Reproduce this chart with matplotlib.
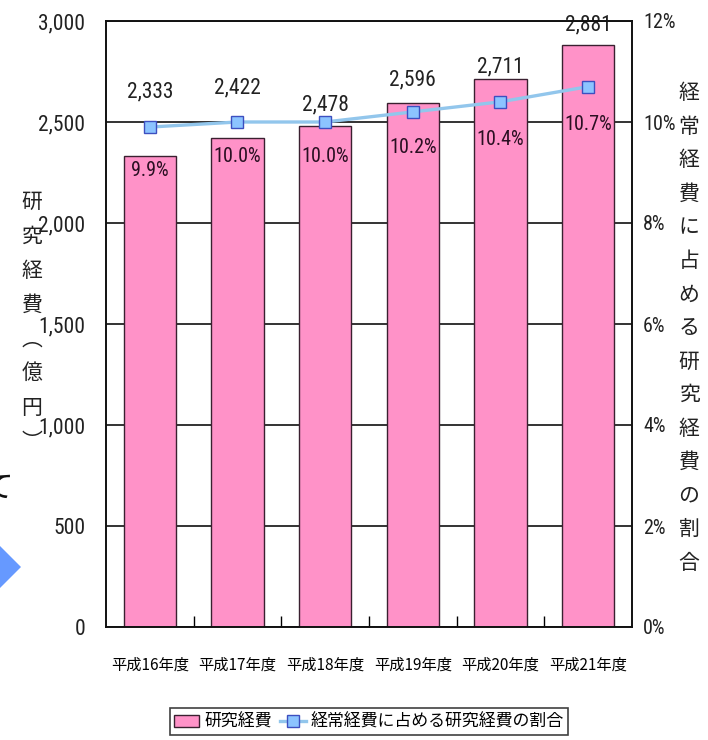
import matplotlib
matplotlib.use("Agg")
import matplotlib.pyplot as plt
from matplotlib import font_manager
from matplotlib.patches import Polygon
from matplotlib.ticker import FixedLocator, FuncFormatter

# pick a narrow face for the numbers if one is installed
fonts = font_manager.fontManager.ttflist
names = {f.name for f in fonts}
narrow = ["Liberation Sans Narrow", "Roboto Condensed", "Noto Sans Condensed",
          "Open Sans Condensed", "DejaVu Sans Condensed", "Arial Narrow"]
num_font = next((n for n in narrow if n in names), None)
num_stretch = "normal"
if num_font is None:
    cond = [f for f in fonts if f.stretch in ("condensed", "semi-condensed",
                                               "extra-condensed", "ultra-condensed")
            and f.style == "normal" and f.weight in (400, "normal", "regular")]
    if cond:
        num_font, num_stretch = cond[0].name, cond[0].stretch
    else:
        num_font = "Liberation Sans"
is_narrow = num_font != "Liberation Sans"

jp_font = "Noto Sans CJK JP"
plt.rcParams["font.family"] = [num_font, jp_font, "DejaVu Sans"]
plt.rcParams["font.stretch"] = num_stretch

# data
years = ["平成16年度", "平成17年度", "平成18年度", "平成19年度", "平成20年度", "平成21年度"]
research_cost = [2333, 2422, 2478, 2596, 2711, 2881]      # 億円
cost_share = [9.9, 10.0, 10.0, 10.2, 10.4, 10.7]          # %
left_ticks = [0, 500, 1000, 1500, 2000, 2500, 3000]
right_ticks = [0, 2, 4, 6, 8, 10, 12]

# label offsets in pixels (value labels above bar tops, share labels below markers)
value_dy = [64, 50, 22, 23, 12, 20]
share_dy = [-43, -35, -35, -36, -38, -38]

num_size = 15.5 if is_narrow else 13
pct_size = 14.5 if is_narrow else 12

bar_color = "#ff92c8"
line_color = "#92c6ec"

fig = plt.figure(figsize=(7.08, 7.40), dpi=100)
ax = fig.add_axes([106 / 708, 113 / 740, 526 / 708, 606 / 740])
ax2 = ax.twinx()

x = list(range(len(years)))
ax.bar(x, research_cost, width=0.6, color=bar_color, edgecolor="#3a2030",
       linewidth=1.0, zorder=2)
ax.set_xlim(-0.5, len(years) - 0.5)
ax.set_ylim(0, 3000)
ax.yaxis.set_major_locator(FixedLocator(left_ticks))
ax.yaxis.set_major_formatter(FuncFormatter(lambda v, p: f"{int(v):,}"))
ax.grid(axis="y", color="#111111", linewidth=1.2, zorder=0)
ax.set_axisbelow(True)
ax.tick_params(axis="y", length=0, pad=15, labelsize=num_size, colors="#222222")

ax.set_xticks(x)
ax.set_xticklabels(years, fontsize=11, fontfamily=[jp_font])
ax.tick_params(axis="x", length=0, pad=21)
ax.set_xticks([i + 0.5 for i in x[:-1]], minor=True)
ax.tick_params(axis="x", which="minor", direction="in", length=8, width=1.0)

ax2.plot(x, cost_share, color=line_color, linewidth=2.4, marker="s",
         markersize=8, markerfacecolor="#8cc4ff", markeredgecolor="#3d4fc0",
         markeredgewidth=1.0, zorder=3)
ax2.set_ylim(0, 12)
ax2.yaxis.set_major_locator(FixedLocator(right_ticks))
ax2.yaxis.set_major_formatter(FuncFormatter(lambda v, p: f"{int(v)}%"))
ax2.tick_params(axis="y", length=0, pad=8, labelsize=pct_size, colors="#222222")

for spine in list(ax.spines.values()) + list(ax2.spines.values()):
    spine.set_linewidth(1.2)
    spine.set_color("#111111")

for i, (v, dy) in enumerate(zip(research_cost, value_dy)):
    ax.annotate(f"{v:,}", (i, v), xytext=(0, dy), textcoords="offset pixels",
                ha="center", va="center", fontsize=num_size, color="#222222", zorder=5)
for i, (s, dy) in enumerate(zip(cost_share, share_dy)):
    ax2.annotate(f"{s:.1f}%", (i, s), xytext=(0, dy), textcoords="offset pixels",
                 ha="center", va="center", fontsize=pct_size, color="#2a0f22", zorder=5)

# vertical axis titles, one character per line
left_title = "研究経費︵億円︶"
right_title = "経常経費に占める研究経費の割合"
fig.text(32 / 708, 1 - 322 / 740, "\n".join(left_title), ha="center", va="center",
         fontsize=15, fontfamily=[jp_font], linespacing=1.72, color="#222222")
fig.text(689 / 708, 1 - 328 / 740, "\n".join(right_title), ha="center", va="center",
         fontsize=15, fontfamily=[jp_font], linespacing=1.68, color="#222222")

# legend below the plot
handles = [ax.patches[0], ax2.lines[0]]
leg = fig.legend(handles, ["研究経費", "経常経費に占める研究経費の割合"],
                 loc="upper center", bbox_to_anchor=(369 / 708, 1 - 700 / 740),
                 ncol=2, frameon=True, fancybox=False, edgecolor="#111111",
                 prop={"family": [jp_font], "size": 12.2}, handlelength=1.5,
                 handletextpad=0.3, columnspacing=0.5, borderpad=0.25)
leg.get_frame().set_linewidth(1.2)

# pieces of the neighbouring slide at the left edge
fig.text(-2 / 708, 1 - 488 / 740, "て", ha="center", va="center", fontsize=22,
         fontfamily=[jp_font], color="#111111")
fig.patches.append(Polygon([(-30 / 708, 1 - 567 / 740), (-4 / 708, 1 - 542 / 740),
                            (21 / 708, 1 - 567 / 740), (-4 / 708, 1 - 592 / 740)],
                           closed=True, transform=fig.transFigure, figure=fig,
                           facecolor="#6699ff", edgecolor="none"))

fig.savefig("out.png", dpi=100)
